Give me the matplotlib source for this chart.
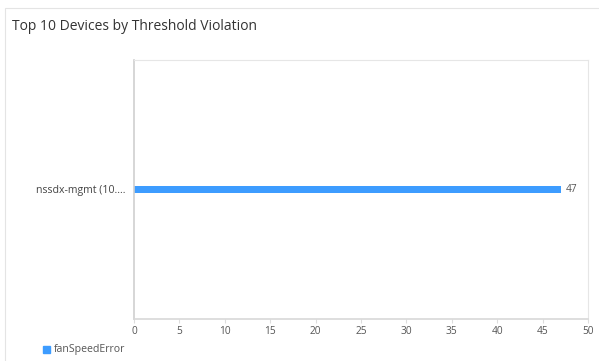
import matplotlib.pyplot as plt
from matplotlib.patches import Rectangle

# chart data
devices = ["nssdx-mgmt (10...."]
violations = [47]
series_name = "fanSpeedError"
x_ticks = [0, 5, 10, 15, 20, 25, 30, 35, 40, 45, 50]

bar_color = "#3d9cff"
plt.rcParams['font.family'] = ['Open Sans', 'DejaVu Sans']

fig = plt.figure(figsize=(5.99, 3.61), dpi=100)
fig.patch.set_facecolor('white')

# card border
fig.patches.append(Rectangle((5 / 599, -0.1), 1.2, 1 - 8 / 361 + 0.1,
                             transform=fig.transFigure, fill=False,
                             edgecolor='#e4e4e4', linewidth=0.8))

fig.text(12 / 599, 1 - 27 / 361, "Top 10 Devices by Threshold Violation",
         fontsize=10, color='#333333', va='center', ha='left')

ax = fig.add_axes([134 / 599, 1 - 319 / 361, (588 - 134) / 599, (319 - 60) / 361])
ypos = list(range(len(devices)))
bars = ax.barh(ypos, violations, height=0.028, color=bar_color, label=series_name)
ax.set_ylim(-0.5, 0.5)
ax.set_xlim(0, 50)
ax.set_xticks(x_ticks)
ax.set_yticks(ypos)
ax.set_yticklabels(devices)

for v, y in zip(violations, ypos):
    ax.text(v + 0.5, y, str(v), fontsize=7.3, color='#555555', va='center', ha='left')

for side in ['top', 'right', 'bottom']:
    ax.spines[side].set_color('#e6e6e6')
    ax.spines[side].set_linewidth(0.8)
ax.spines['left'].set_color('#cfcfcf')
ax.spines['left'].set_linewidth(1.2)
ax.spines['bottom'].set_color('#d8d8d8')
ax.spines['bottom'].set_linewidth(1.2)

ax.tick_params(axis='x', length=3, color='#dddddd', labelsize=7.3, labelcolor='#555555', pad=2)
ax.tick_params(axis='y', length=0, labelsize=7.6, labelcolor='#444444', pad=6)

# legend
fig.patches.append(Rectangle((43 / 599, 1 - 353 / 361), 7 / 599, 7 / 361,
                             transform=fig.transFigure, color=bar_color))
fig.text(54 / 599, 1 - 349.5 / 361, series_name, fontsize=7.6, color='#555555',
         va='center', ha='left')

fig.savefig("out.png", dpi=100)
